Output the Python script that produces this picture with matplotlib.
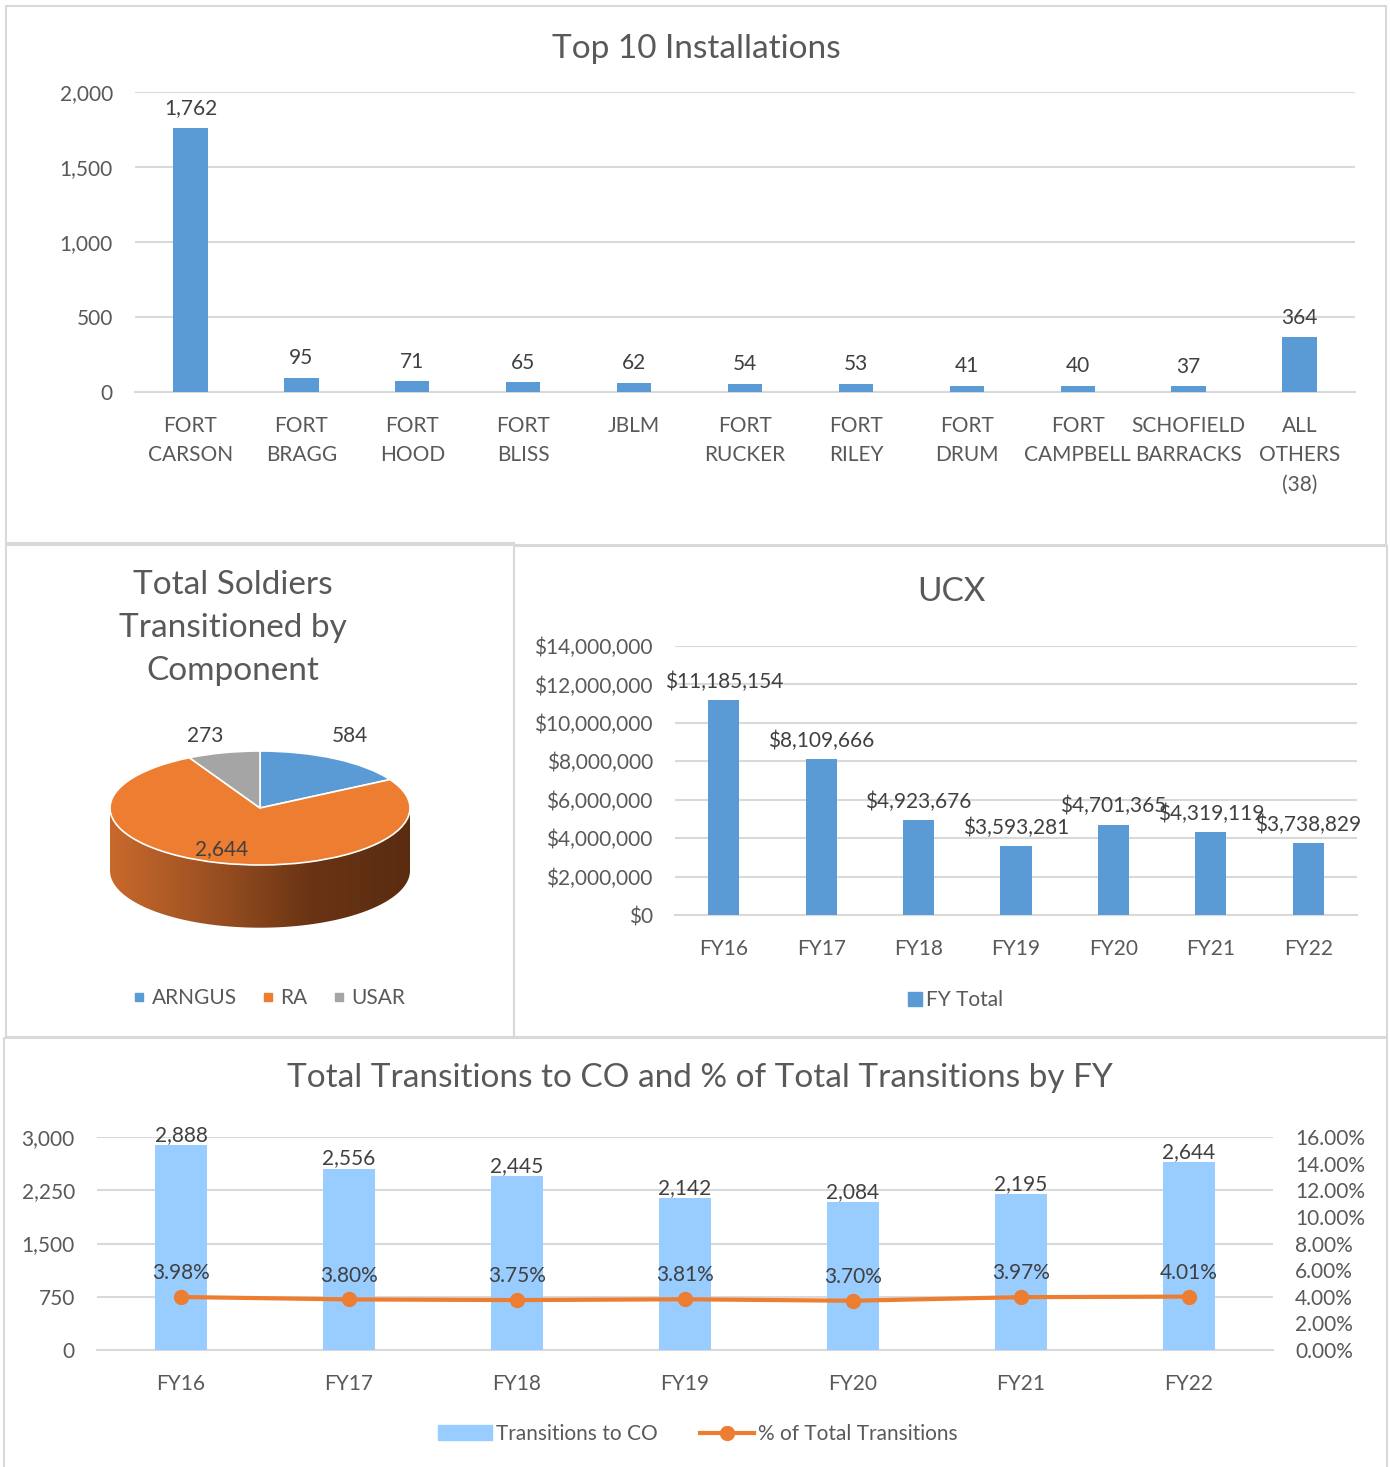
import numpy as np
import matplotlib.pyplot as plt
from matplotlib.patches import Rectangle, Polygon, Patch
from matplotlib.lines import Line2D
from matplotlib.colors import LinearSegmentedColormap
from matplotlib.ticker import FuncFormatter, MultipleLocator

plt.rcParams['font.family'] = ['Lato', 'DejaVu Sans']

# ---- data ----
installations = ['FORT\nCARSON', 'FORT\nBRAGG', 'FORT\nHOOD', 'FORT\nBLISS', 'JBLM',
                 'FORT\nRUCKER', 'FORT\nRILEY', 'FORT\nDRUM', 'FORT\nCAMPBELL',
                 'SCHOFIELD\nBARRACKS', 'ALL\nOTHERS\n(38)']
install_counts = [1762, 95, 71, 65, 62, 54, 53, 41, 40, 37, 364]

components = ['ARNGUS', 'RA', 'USAR']
component_counts = [584, 2644, 273]

fiscal_years = ['FY16', 'FY17', 'FY18', 'FY19', 'FY20', 'FY21', 'FY22']
ucx_totals = [11185154, 8109666, 4923676, 3593281, 4701365, 4319119, 3738829]
co_transitions = [2888, 2556, 2445, 2142, 2084, 2195, 2644]
pct_of_total = [3.98, 3.80, 3.75, 3.81, 3.70, 3.97, 4.01]

# ---- styles ----
BLUE = '#5B9BD5'
ORANGE = '#ED7D31'
GREY = '#A5A5A5'
LIGHTBLUE = '#99CCFF'
GRID = '#D9D9D9'
TICK = '#595959'
LABEL = '#404040'
FS = 15
TFS = 24

W, H = 1390, 1467
fig = plt.figure(figsize=(W / 100, H / 100), dpi=100)


def px_axes(l, t, r, b):
    return fig.add_axes([l / W, 1 - b / H, (r - l) / W, (b - t) / H])


def fx(x):
    return x / W


def fy(y):
    return 1 - y / H


def panel(l, t, r, b):
    fig.patches.append(Rectangle((fx(l), fy(b)), fx(r) - fx(l), fy(t) - fy(b),
                                 transform=fig.transFigure, fill=False,
                                 edgecolor=GRID, lw=1.5))


def style_axes(ax, ypad):
    for s in ['top', 'right', 'left']:
        ax.spines[s].set_visible(False)
    ax.spines['bottom'].set_color(GRID)
    ax.spines['bottom'].set_linewidth(1.5)
    ax.grid(axis='y', color=GRID, lw=1.5)
    ax.set_axisbelow(True)
    ax.tick_params(axis='both', length=0, labelsize=FS, colors=TICK)
    ax.tick_params(axis='y', pad=ypad)
    ax.tick_params(axis='x', pad=17)


panel(6, 6, 1386, 545)
panel(6, 543, 514, 1037)
panel(514, 546, 1387, 1037)
panel(4, 1038, 1387, 1475)

# ---- Top 10 installations ----
ax1 = px_axes(135, 92, 1355, 392)
x1 = np.arange(len(installations))
b1 = ax1.bar(x1, install_counts, width=0.31, color=BLUE, zorder=3)
ax1.set_xlim(-0.5, len(installations) - 0.5)
ax1.set_ylim(0, 2000)
ax1.yaxis.set_major_locator(MultipleLocator(500))
ax1.yaxis.set_major_formatter(FuncFormatter(lambda v, p: f'{v:,.0f}'))
style_axes(ax1, 16)
ax1.set_xticks(x1, installations)
plt.setp(ax1.get_xticklabels(), linespacing=1.6)
ax1.bar_label(b1, labels=[f'{v:,}' for v in install_counts], padding=7,
              fontsize=FS, color=LABEL)
fig.text(fx(696), fy(49), 'Top 10 Installations', ha='center', va='center',
         fontsize=TFS, color=TICK)

# ---- Pie ----
fig.text(fx(233), fy(628), 'Total Soldiers\nTransitioned by\nComponent', ha='center',
         va='center', fontsize=TFS, color=TICK, linespacing=1.55)
axp = px_axes(260 - 1.3 * 150, 808 - 1.5 * 57, 260 + 1.3 * 150, 808 + 2.4 * 57)
wedges, _ = axp.pie(component_counts, colors=[BLUE, ORANGE, GREY], startangle=90,
                    counterclock=False, wedgeprops=dict(edgecolor='white', lw=1.2, zorder=3))
axp.set_aspect('auto')
depth = 1.1
th = np.linspace(np.pi, 2 * np.pi, 200)
side = np.vstack([np.column_stack([np.cos(th), np.sin(th)]),
                  np.column_stack([np.cos(th[::-1]), np.sin(th[::-1]) - depth])])
side_patch = Polygon(side, closed=True, facecolor='none', edgecolor='none')
axp.add_patch(side_patch)
side_cmap = LinearSegmentedColormap.from_list('side', ['#C8692C', '#9C5122', '#6A3414', '#5A2C10'])
grad = np.linspace(0, 1, 256).reshape(1, -1)
im = axp.imshow(grad, cmap=side_cmap, extent=(-1, 1, -1 - depth, 0), aspect='auto', zorder=1)
im.set_clip_path(side_patch)
axp.set_xlim(-1.3, 1.3)
axp.set_ylim(-2.4, 1.5)
total = sum(component_counts)
for w, v in zip(wedges, component_counts):
    mid = np.deg2rad((w.theta1 + w.theta2) / 2)
    if v / total > 0.5:
        tx, ty = 0.75 * np.cos(mid) - 0.05, 0.75 * np.sin(mid)
    else:
        tx, ty = 1.3 * np.cos(mid) - 0.05, max(1.3 * np.sin(mid), 1.27)
    axp.text(tx, ty, f'{v:,}', ha='center', va='center', fontsize=FS, color=LABEL, zorder=5)

pie_handles = [Line2D([], [], marker='s', ls='none', color=c, markersize=6)
               for c in [BLUE, ORANGE, GREY]]
fig.legend(pie_handles, components, loc='center', bbox_to_anchor=(fx(268), fy(998)),
           ncol=3, frameon=False, fontsize=FS, labelcolor=TICK, handletextpad=0.2,
           columnspacing=1.1, handlelength=0.8)

# ---- UCX ----
ax3 = px_axes(675, 646, 1357, 915)
x3 = np.arange(len(fiscal_years))
b3 = ax3.bar(x3, ucx_totals, width=0.32, color=BLUE, zorder=3)
ax3.set_xlim(-0.5, len(fiscal_years) - 0.5)
ax3.set_ylim(0, 14000000)
ax3.yaxis.set_major_locator(MultipleLocator(2000000))
ax3.yaxis.set_major_formatter(FuncFormatter(lambda v, p: f'${v:,.0f}'))
style_axes(ax3, 16)
ax3.set_xticks(x3, fiscal_years)
ax3.bar_label(b3, labels=[f'${v:,}' for v in ucx_totals], padding=6,
              fontsize=FS, color=LABEL)
fig.text(fx(951), fy(592), 'UCX', ha='center', va='center', fontsize=TFS, color=TICK)
fig.legend([Line2D([], [], marker='s', ls='none', color=BLUE, markersize=10)], ['FY Total'],
           loc='center', bbox_to_anchor=(fx(955), fy(1000)), frameon=False, fontsize=FS,
           labelcolor=TICK, handletextpad=0.1, handlelength=0.8)

# ---- Transitions to CO ----
ax4 = px_axes(97, 1137, 1273, 1350)
x4 = np.arange(len(fiscal_years))
b4 = ax4.bar(x4, co_transitions, width=0.31, color=LIGHTBLUE, zorder=3)
ax4.set_xlim(-0.5, len(fiscal_years) - 0.5)
ax4.set_ylim(0, 3000)
ax4.yaxis.set_major_locator(MultipleLocator(750))
ax4.yaxis.set_major_formatter(FuncFormatter(lambda v, p: f'{v:,.0f}'))
style_axes(ax4, 16)
ax4.set_xticks(x4, fiscal_years)
ax4.bar_label(b4, labels=[f'{v:,}' for v in co_transitions], padding=0,
              fontsize=FS, color=LABEL)

ax5 = ax4.twinx()
ax5.plot(x4, pct_of_total, color=ORANGE, lw=3, marker='o', markersize=10, zorder=4)
ax5.set_ylim(0, 16)
ax5.yaxis.set_major_locator(MultipleLocator(2))
ax5.yaxis.set_major_formatter(FuncFormatter(lambda v, p: f'{v:.2f}%'))
for s in ax5.spines.values():
    s.set_visible(False)
ax5.tick_params(axis='y', length=0, labelsize=FS, colors=TICK, pad=16)
for xi, p in zip(x4, pct_of_total):
    ax5.annotate(f'{p:.2f}%', (xi, p), xytext=(0, 10), textcoords='offset points',
                 ha='center', va='bottom', fontsize=FS, color=LABEL)
fig.text(fx(700), fy(1078), 'Total Transitions to CO and % of Total Transitions by FY',
         ha='center', va='center', fontsize=TFS, color=TICK)
bottom_handles = [Patch(color=LIGHTBLUE),
                  Line2D([], [], color=ORANGE, lw=3, marker='o', markersize=10)]
fig.legend(bottom_handles, ['Transitions to CO', '% of Total Transitions'], loc='center',
           bbox_to_anchor=(fx(698), fy(1434)), ncol=2, frameon=False, fontsize=FS,
           labelcolor=TICK, handlelength=2.6, handletextpad=0.2, columnspacing=2.0)

fig.savefig('out.png', dpi=100)
